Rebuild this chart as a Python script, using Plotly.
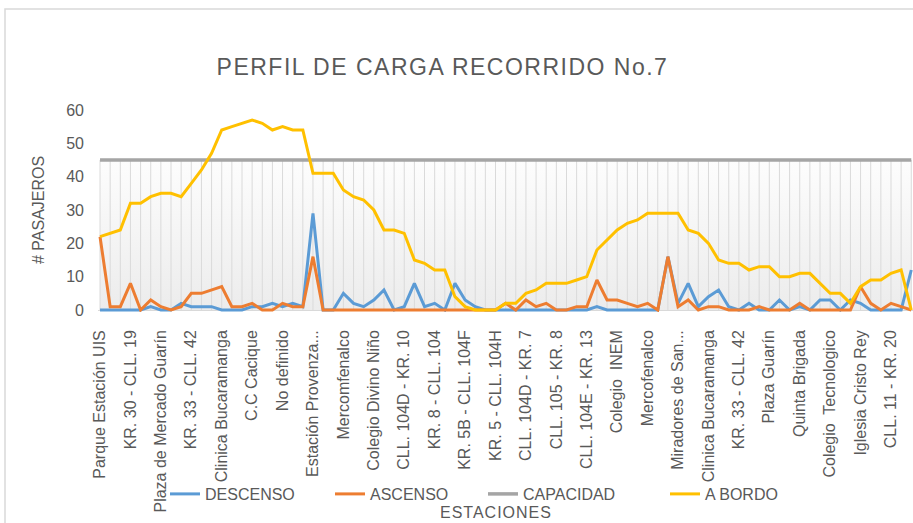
import plotly.graph_objects as go

# ---- data -------------------------------------------------------------
etiquetas = [
    "Parque Estación UIS", "KR. 30 - CLL. 19", "Plaza de Mercado Guarín",
    "KR. 33 - CLL. 42", "Clinica Bucaramanga", "C.C Cacique", "No definido",
    "Estación Provenza...", "Mercomfenalco", "Colegio Divino Niño",
    "CLL. 104D - KR. 10", "KR. 8 - CLL. 104", "KR. 5B - CLL. 104F",
    "KR. 5 - CLL. 104H", "CLL. 104D - KR. 7", "CLL. 105 - KR. 8",
    "CLL. 104E - KR. 13", "Colegio  INEM", "Mercofenalco",
    "Miradores de San...", "Clinica Bucaramanga", "KR. 33 - CLL. 42",
    "Plaza Guarín", "Quinta Brigada", "Colegio  Tecnologico",
    "Iglesia Cristo Rey", "CLL. 11 - KR. 20",
]

descenso = [
    0, 0, 0, 0, 0, 1, 0, 0, 2, 1, 1, 1, 0, 0, 0, 1, 1, 2, 1, 2, 1,
    29, 0, 0, 5, 2, 1, 3, 6, 0, 1, 8, 1, 2, 0, 8, 3, 1, 0, 0, 0,
    0, 0, 0, 0, 0, 0, 0, 0, 1, 0, 0, 0, 0, 0, 0, 16, 2, 8, 1, 4,
    6, 1, 0, 2, 0, 0, 3, 0, 1, 0, 3, 3, 0, 3, 2, 0, 0, 0, 0, 12,
]
ascenso = [
    22, 1, 1, 8, 0, 3, 1, 0, 1, 5, 5, 6, 7, 1, 1, 2, 0, 0, 2, 1, 1,
    16, 0, 0, 0, 0, 0, 0, 0, 0, 0, 0, 0, 0, 0, 0, 0, 0, 0, 0, 2,
    0, 3, 1, 2, 0, 0, 1, 1, 9, 3, 3, 2, 1, 2, 0, 16, 1, 3, 0, 1,
    1, 0, 0, 0, 1, 0, 0, 0, 2, 0, 0, 0, 0, 0, 7, 2, 0, 2, 1, 0,
]
a_bordo = [
    22, 23, 24, 32, 32, 34, 35, 35, 34, 38, 42, 47, 54, 55, 56, 57, 56, 54, 55, 54, 54,
    41, 41, 41, 36, 34, 33, 30, 24, 24, 23, 15, 14, 12, 12, 4, 1, 0, 0, 0, 2,
    2, 5, 6, 8, 8, 8, 9, 10, 18, 21, 24, 26, 27, 29, 29, 29, 29, 24, 23, 20,
    15, 14, 14, 12, 13, 13, 10, 10, 11, 11, 8, 5, 5, 2, 7, 9, 9, 11, 12, 0,
]
capacidad = [
    45, 45, 45, 45, 45, 45, 45, 45, 45, 45, 45, 45, 45, 45, 45, 45, 45, 45, 45, 45, 45,
    45, 45, 45, 45, 45, 45, 45, 45, 45, 45, 45, 45, 45, 45, 45, 45, 45, 45, 45, 45,
    45, 45, 45, 45, 45, 45, 45, 45, 45, 45, 45, 45, 45, 45, 45, 45, 45, 45, 45, 45,
    45, 45, 45, 45, 45, 45, 45, 45, 45, 45, 45, 45, 45, 45, 45, 45, 45, 45, 45, 45,
]
y_ticks = [0, 10, 20, 30, 40, 50, 60]

paradas = list(range(len(a_bordo)))
tick_pos = paradas[::3][:len(etiquetas)]

TXT = "#595959"
FONT = "Liberation Sans"

# plot-area geometry in pixels
PL, PW = 98, 815          # left, width
PB, PH = 312, 202         # bottom y, height


def px_x(px):
    return (px - PL) / PW


def px_y(py):
    return (PB - py) / PH


fig = go.Figure()

# capacity columns background (gradient + separators)
fig.add_trace(go.Scatter(
    x=paradas, y=capacidad, mode="lines", fill="tozeroy",
    fillgradient=dict(type="vertical",
                      colorscale=[[0, "#ececec"], [1, "#fdfdfd"]]),
    line=dict(width=0), showlegend=False, hoverinfo="skip",
    error_y=dict(type="data", symmetric=False, array=[0] * len(capacidad),
                 arrayminus=capacidad, width=0, thickness=1, color="#dadada"),
))

series = [
    ("DESCENSO", descenso, "#5b9bd5", 3, "legend", 210),
    ("ASCENSO", ascenso, "#ed7d31", 3, "legend2", 375),
    ("CAPACIDAD", capacidad, "#a5a5a5", 3.5, "legend3", 528),
    ("A BORDO", a_bordo, "#ffc000", 3, "legend4", 710),
]

legends = {}
for name, vals, col, w, leg, text_x in series:
    fig.add_trace(go.Scatter(x=paradas, y=vals, mode="lines", name=name,
                             legend=leg, line=dict(color=col, width=w)))
    legends[leg] = dict(orientation="h", x=px_x(text_x - 45), xanchor="left",
                        y=px_y(494), yanchor="middle",
                        font=dict(size=16, color=TXT, family=FONT),
                        bgcolor="rgba(0,0,0,0)")

fig.update_layout(
    width=913, height=523,
    margin=dict(l=PL, r=913 - PL - PW, t=PB - PH, b=523 - PB, autoexpand=False),
    paper_bgcolor="white", plot_bgcolor="white",
    font=dict(family=FONT, color=TXT, size=14),
    title=dict(text='<span style="letter-spacing:1.5px">PERFIL DE CARGA RECORRIDO No.7</span>',
               x=px_x(493), xanchor="center",
               y=1 - 67 / 523, yanchor="middle", yref="container",
               font=dict(size=23, color=TXT, family=FONT)),
    xaxis=dict(range=[-0.2, 80.17], tickmode="array", tickvals=tick_pos,
               ticktext=etiquetas, tickangle=-90, showgrid=False,
               zeroline=False, showline=False, ticks="",
               ticklabelstandoff=14,
               tickfont=dict(size=16, color=TXT, family=FONT)),
    yaxis=dict(range=[-0.6, 60], tickmode="array", tickvals=y_ticks,
               showgrid=False, zeroline=True, zerolinecolor="#d9d9d9",
               zerolinewidth=1, showline=False, ticks="",
               ticklabelstandoff=13,
               tickfont=dict(size=16, color=TXT, family=FONT)),
    showlegend=True,
    annotations=[
        dict(text="# PASAJEROS", xref="paper", yref="paper",
             x=px_x(38), y=px_y(210), textangle=-90,
             showarrow=False, font=dict(size=16, color=TXT, family=FONT),
             xanchor="center", yanchor="middle"),
        dict(text='<span style="letter-spacing:1px">ESTACIONES</span>',
             xref="paper", yref="paper",
             x=px_x(496), y=px_y(512),
             showarrow=False, font=dict(size=16, color=TXT, family=FONT),
             xanchor="center", yanchor="middle"),
    ],
    shapes=[
        dict(type="rect", xref="paper", yref="paper",
             x0=px_x(5), x1=1.2, y0=-2, y1=px_y(9),
             line=dict(color="#d9d9d9", width=1.5), fillcolor="rgba(0,0,0,0)",
             layer="below"),
    ],
)
fig.update_layout(**legends)

fig.write_html("out.html", config={"displayModeBar": False},
               post_script="document.body.style.margin='0';")
